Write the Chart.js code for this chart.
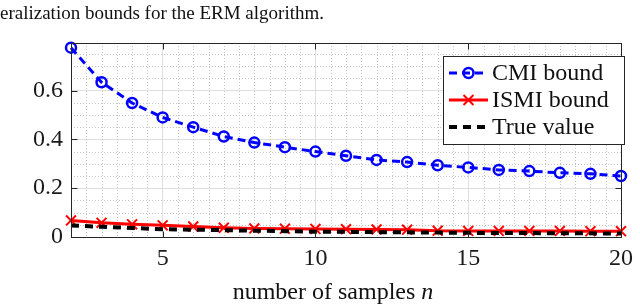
<!DOCTYPE html>
<html>
<head>
<meta charset="utf-8">
<script src="https://cdn.jsdelivr.net/npm/chart.js@4.4.1/dist/chart.umd.min.js"></script>
<style>
    html, body { margin: 0; padding: 0; background: #fff; }
    #wrap { position: relative; width: 640px; height: 305px; }
</style>
</head>
<body>
<div id="wrap"><canvas id="chart-bounds" width="640" height="305"></canvas></div>
<script>
// ── Values ─────────────────────────────────────────────────────────
const samples = [2, 3, 4, 5, 6, 7, 8, 9, 10, 11, 12, 13, 14, 15, 16, 17, 18, 19, 20];
const cmiBound = [0.776, 0.634, 0.549, 0.490, 0.450, 0.412, 0.387, 0.368, 0.350, 0.333, 0.316, 0.307, 0.294, 0.285, 0.275, 0.270, 0.263, 0.259, 0.250];
const ismiBound = [0.068, 0.058, 0.052, 0.048, 0.043, 0.038, 0.035, 0.034, 0.033, 0.032, 0.031, 0.030, 0.026, 0.025, 0.025, 0.025, 0.025, 0.024, 0.024];
const trueValue = [0.047, 0.042, 0.037, 0.032, 0.030, 0.028, 0.026, 0.024, 0.022, 0.021, 0.020, 0.019, 0.018, 0.017, 0.016, 0.016, 0.015, 0.015, 0.014];

const seriesLabels = ['CMI bound', 'ISMI bound', 'True value'];
const xTicks = [5, 10, 15, 20];
const yTicks = [0, 0.2, 0.4, 0.6];
const caption = 'eralization bounds for the ERM algorithm.';
const xTitle = 'number of samples ';
const xTitleVar = 'n';

const SERIF = "'Liberation Serif', 'Times New Roman', serif";
const AXIS_COLOR = '#262626';

const toPoints = ys => samples.map((n, i) => ({ x: n, y: ys[i] }));

// dotted minor grid (every 0.5 on x, every 0.05 on y)
const minorGrid = {
    id: 'minorGrid',
    beforeDatasetsDraw(chart) {
        const { ctx, chartArea: a, scales: { x, y } } = chart;
        ctx.save();
        ctx.strokeStyle = '#c4c4c4';
        ctx.lineWidth = 1;
        ctx.setLineDash([1, 2]);
        for (let i = 5; i < 40; i++) {
            if (i % 10 === 0) continue;
            const px = Math.round(x.getPixelForValue(i / 2)) + 0.5;
            ctx.beginPath(); ctx.moveTo(px, a.top); ctx.lineTo(px, a.bottom); ctx.stroke();
        }
        for (let i = 1; i < 16; i++) {
            if (i % 4 === 0) continue;
            const py = Math.round(y.getPixelForValue(i * 0.05)) + 0.5;
            ctx.beginPath(); ctx.moveTo(a.left, py); ctx.lineTo(a.right, py); ctx.stroke();
        }
        ctx.restore();
    }
};

// box around the axes with inward tick marks on all four sides
const axesBox = {
    id: 'axesBox',
    afterDatasetsDraw(chart) {
        const { ctx, chartArea: a, scales: { x, y } } = chart;
        const L = Math.round(a.left) + 0.5, R = Math.round(a.right) + 0.5;
        const T = Math.round(a.top) + 0.5, B = Math.round(a.bottom) + 0.5;
        const tl = 6;
        ctx.save();
        ctx.strokeStyle = AXIS_COLOR;
        ctx.lineWidth = 1;
        ctx.strokeRect(L, T, R - L, B - T);
        ctx.beginPath();
        xTicks.forEach(v => {
            const px = Math.round(x.getPixelForValue(v)) + 0.5;
            ctx.moveTo(px, B); ctx.lineTo(px, B - tl);
            ctx.moveTo(px, T); ctx.lineTo(px, T + tl);
        });
        yTicks.forEach(v => {
            const py = Math.round(y.getPixelForValue(v)) + 0.5;
            ctx.moveTo(L, py); ctx.lineTo(L + tl, py);
            ctx.moveTo(R, py); ctx.lineTo(R - tl, py);
        });
        ctx.stroke();
        ctx.restore();
    }
};

function drawMarker(ctx, style, cx, cy, r) {
    ctx.beginPath();
    if (style === 'circle') {
        ctx.arc(cx, cy, r, 0, Math.PI * 2);
    } else if (style === 'crossRot') {
        const d = r * Math.SQRT1_2;
        ctx.moveTo(cx - d, cy - d); ctx.lineTo(cx + d, cy + d);
        ctx.moveTo(cx - d, cy + d); ctx.lineTo(cx + d, cy - d);
    }
    ctx.stroke();
}

// legend box in the upper right corner, MATLAB style
const boxLegend = {
    id: 'boxLegend',
    afterDraw(chart) {
        const { ctx } = chart;
        const bx = 443.5, by = 56.5, bw = 181, bh = 88;
        ctx.save();
        ctx.fillStyle = '#fff';
        ctx.fillRect(bx, by, bw, bh);
        ctx.strokeStyle = AXIS_COLOR;
        ctx.lineWidth = 1;
        ctx.strokeRect(bx, by, bw, bh);

        chart.data.datasets.forEach((ds, i) => {
            const rowY = 73 + i * 27;
            ctx.save();
            ctx.beginPath();
            ctx.rect(449, rowY - 10, 39, 20);
            ctx.clip();
            ctx.strokeStyle = ds.borderColor;
            ctx.lineWidth = ds.borderWidth;
            ctx.setLineDash(ds.borderDash || []);
            ctx.beginPath(); ctx.moveTo(449, rowY); ctx.lineTo(488, rowY); ctx.stroke();
            ctx.restore();
            if (ds.pointRadius > 0) {
                ctx.save();
                ctx.strokeStyle = ds.pointBorderColor;
                ctx.lineWidth = ds.pointBorderWidth;
                ctx.setLineDash([]);
                drawMarker(ctx, ds.pointStyle, 468.5, rowY, ds.pointRadius);
                ctx.restore();
            }
            ctx.fillStyle = '#111';
            ctx.font = `24px ${SERIF}`;
            ctx.textBaseline = 'middle';
            ctx.textAlign = 'left';
            ctx.fillText(ds.label, 492, rowY + 1);
        });
        ctx.restore();
    }
};

// cut-off caption on top and x axis title with italic n
const textBits = {
    id: 'textBits',
    afterDraw(chart) {
        const { ctx } = chart;
        ctx.save();
        ctx.fillStyle = '#111';
        ctx.textBaseline = 'alphabetic';
        ctx.textAlign = 'left';
        ctx.font = `19px ${SERIF}`;
        ctx.fillText(caption, 0, 19);

        ctx.font = `24px ${SERIF}`;
        const w1 = ctx.measureText(xTitle).width;
        ctx.font = `italic 24px ${SERIF}`;
        const w2 = ctx.measureText(xTitleVar).width;
        const x0 = 333 - (w1 + w2) / 2;
        ctx.font = `24px ${SERIF}`;
        ctx.fillText(xTitle, x0, 299);
        ctx.font = `italic 24px ${SERIF}`;
        ctx.fillText(xTitleVar, x0 + w1, 299);
        ctx.restore();
    }
};

new Chart(document.getElementById('chart-bounds'), {
    type: 'line',
    data: {
        datasets: [
            {
                label: seriesLabels[0],
                data: toPoints(cmiBound),
                borderColor: '#0000ff',
                borderWidth: 3,
                borderDash: [8, 5],
                pointStyle: 'circle',
                pointRadius: 5,
                pointBorderWidth: 2.5,
                pointBorderColor: '#0000ff',
                pointBackgroundColor: 'rgba(0,0,0,0)',
                tension: 0,
                clip: false,
                order: 2,
            },
            {
                label: seriesLabels[1],
                data: toPoints(ismiBound),
                borderColor: '#ff0000',
                borderWidth: 3,
                pointStyle: 'crossRot',
                pointRadius: 7,
                pointBorderWidth: 2,
                pointBorderColor: '#ff0000',
                pointBackgroundColor: '#ff0000',
                tension: 0,
                clip: false,
                order: 1,
            },
            {
                label: seriesLabels[2],
                data: toPoints(trueValue),
                borderColor: '#000000',
                borderWidth: 4,
                borderDash: [8, 6],
                pointRadius: 0,
                tension: 0,
                clip: false,
                order: 0,
            }
        ]
    },
    options: {
        responsive: false,
        animation: false,
        devicePixelRatio: 1,
        layout: { padding: { left: 0, top: 43, right: 13, bottom: 0 } },
        plugins: {
            legend: { display: false },
            tooltip: { enabled: false },
            title: { display: false }
        },
        scales: {
            x: {
                type: 'linear',
                min: 2,
                max: 20,
                afterBuildTicks: s => { s.ticks = xTicks.map(v => ({ value: v })); },
                afterFit: s => { s.height = 68; },
                grid: { color: '#dedede', lineWidth: 1, drawTicks: false },
                border: { display: false },
                ticks: {
                    padding: 7,
                    color: '#1a1a1a',
                    maxRotation: 0,
                    autoSkip: false,
                    font: { family: SERIF, size: 24 }
                }
            },
            y: {
                type: 'linear',
                min: 0,
                max: 0.795,
                afterBuildTicks: s => { s.ticks = yTicks.map(v => ({ value: v })); },
                afterFit: s => { s.width = 71; },
                grid: { color: '#dedede', lineWidth: 1, drawTicks: false },
                border: { display: false },
                ticks: {
                    padding: 8,
                    color: '#1a1a1a',
                    autoSkip: false,
                    font: { family: SERIF, size: 24 },
                    callback: v => v === 0 ? '0' : v.toFixed(1)
                }
            }
        }
    },
    plugins: [minorGrid, axesBox, boxLegend, textBits]
});
</script>
</body>
</html>
